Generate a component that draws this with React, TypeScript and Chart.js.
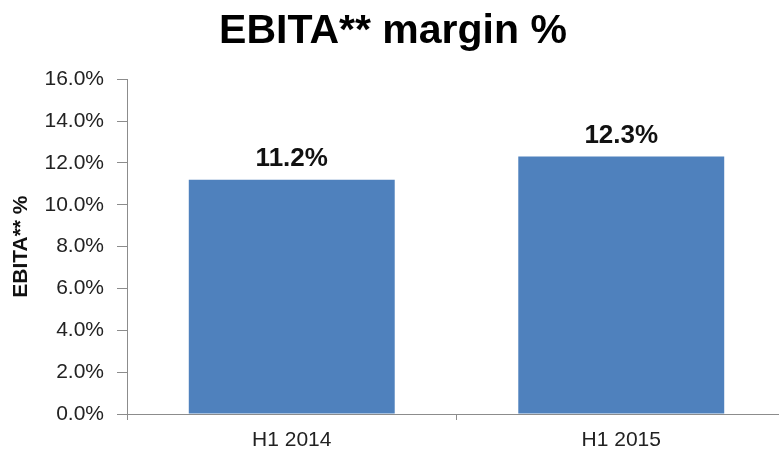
import React, { useEffect, useRef } from "react";
import { Chart, registerables } from "chart.js";

Chart.register(...registerables);

const categories: string[] = ["H1 2014", "H1 2015"];
const marginValues: number[] = [11.2, 12.3];
const yTickValues: number[] = [0, 2, 4, 6, 8, 10, 12, 14, 16];
const titleText = "EBITA** margin %";
const yAxisTitle = "EBITA** %";

const FONT = "'Liberation Sans', Arial, Helvetica, sans-serif";
const BAR_COLOR = "#4F81BD";
const AXIS_COLOR = "#8c8c8c";

const valueLabelPlugin = {
  id: "valueLabels",
  afterDatasetsDraw(chart: any) {
    const ctx = chart.ctx;
    const meta = chart.getDatasetMeta(0);
    ctx.save();
    ctx.font = `bold 26px ${FONT}`;
    ctx.fillStyle = "#111";
    ctx.textAlign = "center";
    ctx.textBaseline = "alphabetic";
    meta.data.forEach((el: any, i: number) => {
      const v = chart.data.datasets[0].data[i] as number;
      ctx.fillText(v.toFixed(1) + "%", el.x, el.y - 14);
    });
    ctx.restore();
  },
};

export default function App() {
  const ref = useRef<HTMLCanvasElement | null>(null);

  useEffect(() => {
    if (!ref.current) return;
    const chart = new Chart(ref.current, {
      type: "bar",
      data: {
        labels: categories,
        datasets: [
          {
            data: marginValues,
            backgroundColor: BAR_COLOR,
            borderWidth: 0,
            categoryPercentage: 1,
            barPercentage: 0.625,
          },
        ],
      },
      options: {
        animation: false,
        responsive: false,
        maintainAspectRatio: false,
        devicePixelRatio: 1,
        layout: { padding: { left: 0, right: 0, top: 0, bottom: 0 } },
        plugins: {
          legend: { display: false },
          tooltip: { enabled: false },
          title: {
            display: true,
            text: titleText,
            color: "#000",
            font: { family: FONT, size: 41, weight: "bold" },
            padding: { top: 7, bottom: 23 },
          },
        },
        scales: {
          x: {
            type: "category",
            offset: true,
            afterFit(scale: any) {
              scale.height = 40;
            },
            grid: {
              display: true,
              drawOnChartArea: false,
              drawTicks: true,
              tickLength: 6,
              color: AXIS_COLOR,
              offset: true,
            },
            border: { display: true, color: AXIS_COLOR, width: 1 },
            ticks: {
              color: "#222",
              font: { family: FONT, size: 21 },
              padding: 8,
            },
          },
          y: {
            min: 0,
            max: 16,
            afterBuildTicks(scale: any) {
              scale.ticks = yTickValues.map((v) => ({ value: v }));
            },
            afterFit(scale: any) {
              scale.width = 127;
            },
            grid: {
              display: true,
              drawOnChartArea: false,
              drawTicks: true,
              tickLength: 10,
              color: AXIS_COLOR,
            },
            border: { display: true, color: AXIS_COLOR, width: 1 },
            ticks: {
              color: "#222",
              font: { family: FONT, size: 21 },
              padding: 13,
              callback: (v: any) => Number(v).toFixed(1) + "%",
            },
            title: {
              display: true,
              text: yAxisTitle,
              color: "#111",
              font: { family: FONT, size: 21, weight: "bold" },
              padding: { top: 9, bottom: 0 },
            },
          },
        },
      },
      plugins: [valueLabelPlugin],
    });
    return () => chart.destroy();
  }, []);

  return (
    <div
      style={{
        position: "fixed",
        left: 0,
        top: 0,
        width: 779,
        height: 454,
        overflow: "hidden",
        background: "#fff",
      }}
    >
      <canvas ref={ref} width={786} height={454} style={{ display: "block" }} />
    </div>
  );
}
